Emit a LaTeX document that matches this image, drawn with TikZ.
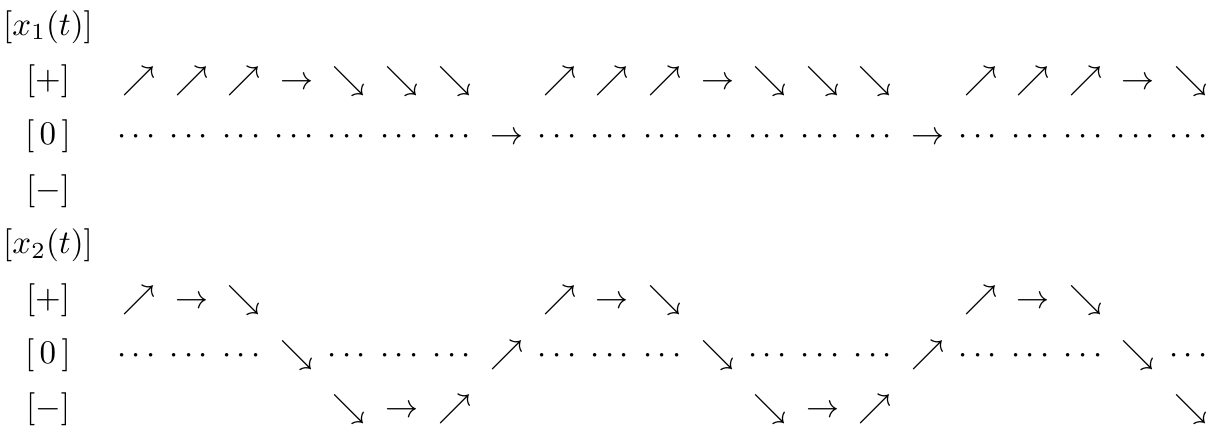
\documentclass[tikz,border=0pt]{standalone}
\usepackage{amsmath, amssymb}
\usepackage{tikz}

\begin{document}
\begin{tikzpicture}[
x=15.94pt, y=-16.58pt,
sym/.style={anchor=base, inner sep=0pt},
lab/.style={anchor=base, inner sep=0pt}
]
\useasboundingbox (-2.643,-0.640) rectangle (20.361,7.349);

% x1 labels
\node[lab] (h1) at (-1.73,0) {$[x_1(t)]$};
\node[lab] (l1p) at (-1.73,1) {$[+]$};
\node[lab] (l1z) at (-1.73,2) {$[\,0\,]$};
\node[lab] (l1m) at (-1.73,3) {$[-]$};

% x1 plus row
\foreach \k in {0,1,2,8,9,10,16,17,18}
  \node[sym] (p1-\k) at (\k,1) {$\nearrow$};
\foreach \k in {3,11,19}
  \node[sym] (p1-\k) at (\k,1) {$\rightarrow$};
\foreach \k in {4,5,6,12,13,14,20}
  \node[sym] (p1-\k) at (\k,1) {$\searrow$};

% x1 zero row
\foreach \k in {0,...,6,8,9,...,14,16,17,...,20}
  \node[sym] (z1-\k) at (\k,2) {$\cdots$};
\foreach \k in {7,15}
  \node[sym] (z1-\k) at (\k,2) {$\rightarrow$};

% x2 labels
\node[lab] (h2) at (-1.73,4) {$[x_2(t)]$};
\node[lab] (l2p) at (-1.73,5) {$[+]$};
\node[lab] (l2z) at (-1.73,6) {$[\,0\,]$};
\node[lab] (l2m) at (-1.73,7) {$[-]$};

% x2 plus row
\foreach \k in {0,8,16}
  \node[sym] (p2-\k) at (\k,5) {$\nearrow$};
\foreach \k in {1,9,17}
  \node[sym] (p2-\k) at (\k,5) {$\rightarrow$};
\foreach \k in {2,10,18}
  \node[sym] (p2-\k) at (\k,5) {$\searrow$};

% x2 zero row
\foreach \k in {0,1,2,4,5,6,8,9,10,12,13,14,16,17,18,20}
  \node[sym] (z2-\k) at (\k,6) {$\cdots$};
\foreach \k in {3,11,19}
  \node[sym] (z2-\k) at (\k,6) {$\searrow$};
\foreach \k in {7,15}
  \node[sym] (z2-\k) at (\k,6) {$\nearrow$};

% x2 minus row
\foreach \k in {4,12,20}
  \node[sym] (m2-\k) at (\k,7) {$\searrow$};
\foreach \k in {5,13}
  \node[sym] (m2-\k) at (\k,7) {$\rightarrow$};
\foreach \k in {6,14}
  \node[sym] (m2-\k) at (\k,7) {$\nearrow$};

\end{tikzpicture}
\end{document}
